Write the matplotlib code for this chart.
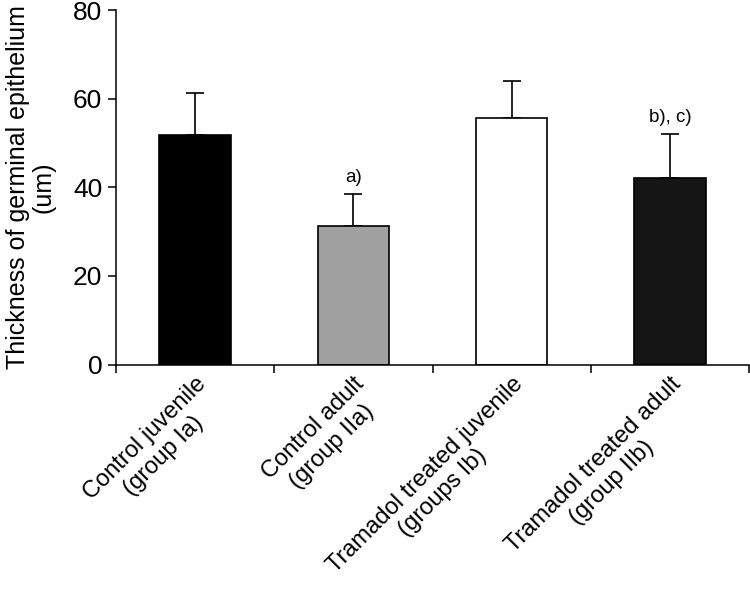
import numpy as np
from matplotlib import pyplot as plt

plt.rcParams['font.family'] = ['Liberation Sans', 'DejaVu Sans']

groups = ['Control juvenile\n(group Ia)', 'Control adult\n(group IIa)',
          'Tramadol treated juvenile\n(groups Ib)', 'Tramadol treated adult\n(group IIb)']
means = [51.8, 31.3, 55.6, 42.0]
sd = [9.5, 7.1, 8.4, 10.0]
colors = ['#000000', '#a0a0a0', '#ffffff', '#151515']
marks = ['', 'a)', '', 'b), c)']

fig = plt.figure(figsize=(7.5, 5.91), dpi=100)
ax = fig.add_axes([0.1547, 0.3832, 0.8440, 0.5998])

x = np.arange(len(groups))
ax.bar(x, means, width=0.453, color=colors, edgecolor='black', linewidth=1.2, zorder=2)
ax.errorbar(x, means, yerr=[np.zeros(len(sd)), sd], fmt='none', ecolor='black',
            elinewidth=1.2, capsize=6.5, capthick=1.2, zorder=1)

for xi, m, s, t in zip(x, means, sd, marks):
    if t:
        ax.text(xi, m + s + 1.8, t, ha='center', va='bottom', fontsize=13.5)

ax.set_xlim(-0.5, 3.5)
ax.set_ylim(0, 80)
ax.set_yticks([0, 20, 40, 60, 80])
ax.tick_params(axis='y', labelsize=19, length=6, width=1.1, direction='out', pad=4)

# ticks at category boundaries, labels at category centres
ax.set_xticks(np.arange(-0.5, 4.0, 1.0))
ax.set_xticklabels([])
ax.tick_params(axis='x', which='major', length=6, width=1.1, direction='out')
ax.set_xticks(x, minor=True)
ax.set_xticklabels(groups, minor=True, rotation=45, ha='right', va='top',
                   rotation_mode='anchor', multialignment='center', fontsize=17)
ax.tick_params(axis='x', which='minor', length=0, pad=6)

ax.spines['top'].set_visible(False)
ax.spines['right'].set_visible(False)
ax.spines['left'].set_linewidth(1.1)
ax.spines['bottom'].set_linewidth(1.1)

ax.set_ylabel('Thickness of germinal epithelium\n(um)', fontsize=18, linespacing=1.1)
ax.yaxis.set_label_coords(-0.095, 0.5)

fig.savefig('out.png', dpi=100)
